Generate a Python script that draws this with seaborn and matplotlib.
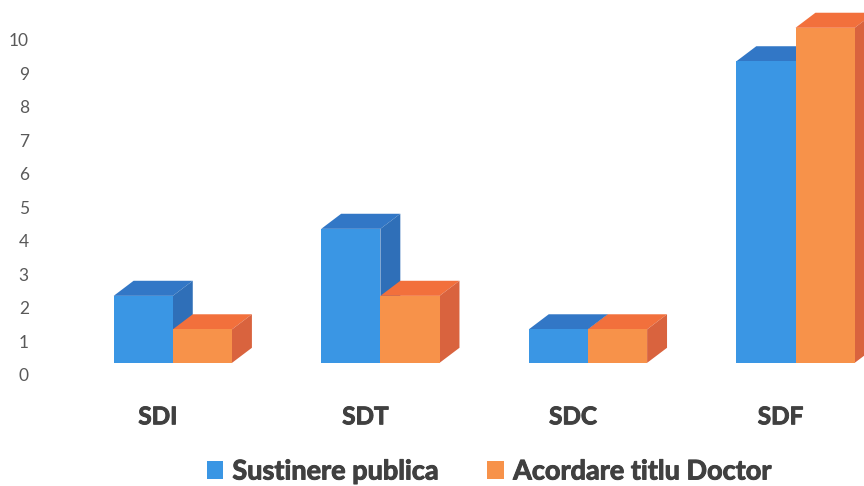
import matplotlib
matplotlib.use('Agg')

import matplotlib.pyplot as plt
import matplotlib.transforms as mtransforms
import matplotlib.patheffects as pe
from matplotlib.patches import Polygon, Patch
import seaborn as sns
import pandas as pd

# Data
categories = ['SDI', 'SDT', 'SDC', 'SDF']
series_names = ['Sustinere publica', 'Acordare titlu Doctor']
sustinere = [2, 4, 1, 9]
acordare = [1, 2, 1, 10]
yticks = list(range(0, 11))

df = pd.DataFrame({
    'cat': categories * 2,
    'serie': [series_names[0]] * 4 + [series_names[1]] * 4,
    'val': sustinere + acordare,
})

# face colours: front, top, side
FACES = {
    series_names[0]: ('#3A96E4', '#3277C6', '#2F6FB8'),
    series_names[1]: ('#F7924A', '#F2703C', '#D9633E'),
}
FLOOR = 0.36      # front face sits a bit above the back-wall zero
DX, DY = 0.096, 0.45  # depth of the fake 3D boxes, in data units
TEXT_DARK = '#404040'

sns.set_style('white')
plt.rcParams['font.family'] = ['Lato', 'DejaVu Sans']

fig = plt.figure(figsize=(8.64, 4.86), dpi=100)
ax = fig.add_axes([40 / 864, 1 - 390 / 486, 1 - 40 / 864, 390 / 486])

sns.barplot(data=df, x='cat', y='val', hue='serie', order=categories,
            hue_order=series_names, width=0.57, palette=[FACES[s][0] for s in series_names],
            saturation=1, legend=False, ax=ax)

for i, (name, cont) in enumerate(zip(series_names, ax.containers)):
    front, top, side = FACES[name]
    z = 2 + i
    for p in cont:
        p.set_y(FLOOR)
        p.set_zorder(z)
        p.set_edgecolor('none')
        x0, w, h = p.get_x(), p.get_width(), p.get_height()
        y0 = FLOOR
        y1 = y0 + h
        ax.add_patch(Polygon([(x0, y1), (x0 + w, y1), (x0 + w + DX, y1 + DY), (x0 + DX, y1 + DY)],
                             closed=True, facecolor=top, edgecolor='none', zorder=z - 0.2))
        ax.add_patch(Polygon([(x0 + w, y0), (x0 + w + DX, y0 + DY), (x0 + w + DX, y1 + DY), (x0 + w, y1)],
                             closed=True, facecolor=side, edgecolor='none', zorder=z - 0.2))

ax.set_xlim(-0.64, 3.33)
ax.set_ylim(-0.45, 11.19)
ax.set_yticks(yticks)
ax.set_yticklabels([str(t) for t in yticks], color='#595959', fontsize=12.5)
ax.set_xticks(range(len(categories)))
ax.set_xticklabels(categories, color=TEXT_DARK, fontsize=17.5, fontweight='bold')
ax.tick_params(axis='y', length=0, pad=8)
ax.tick_params(axis='x', length=0, pad=11)
ax.set_xlabel('')
ax.set_ylabel('')
sns.despine(ax=ax, left=True, bottom=True)

# thicker strokes to get closer to the heavy bold of the original
heavy = [pe.withStroke(linewidth=0.7, foreground=TEXT_DARK)]

# 3D projection pushes the category labels slightly left
shift = mtransforms.ScaledTranslation(-15 / 100, 0, fig.dpi_scale_trans)
for lab in ax.get_xticklabels():
    lab.set_transform(lab.get_transform() + shift)
    lab.set_path_effects(heavy)

handles = [Patch(facecolor=FACES[s][0], edgecolor='none') for s in series_names]
leg = fig.legend(handles, series_names, loc='lower center', bbox_to_anchor=(0.566, -0.045),
                 ncol=2, frameon=False, handlelength=0.6, handleheight=0.6, handletextpad=0.35,
                 columnspacing=1.8, prop={'size': 19.5, 'weight': 'bold'}, labelcolor=TEXT_DARK)
for t in leg.get_texts():
    t.set_path_effects(heavy)

fig.savefig('out.png', dpi=100)
